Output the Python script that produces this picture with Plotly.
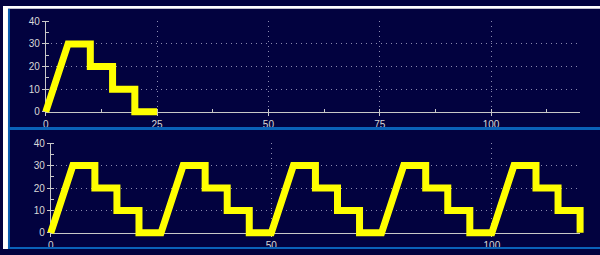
import plotly.graph_objects as go

# ---- data ----
top_x = [0, 5, 10, 10, 15, 15, 20, 20, 25]
top_y = [0, 30, 30, 20, 20, 10, 10, 0, 0]

bot_x = [0, 5, 10, 10, 15, 15, 20, 20, 25,
         30, 35, 35, 40, 40, 45, 45, 50,
         55, 60, 60, 65, 65, 70, 70, 75,
         80, 85, 85, 90, 90, 95, 95, 100,
         105, 110, 110, 115, 115, 120, 120]
bot_y = [0, 30, 30, 20, 20, 10, 10, 0, 0,
         30, 30, 20, 20, 10, 10, 0, 0,
         30, 30, 20, 20, 10, 10, 0, 0,
         30, 30, 20, 20, 10, 10, 0, 0,
         30, 30, 20, 20, 10, 10, 0]

x_range = [0, 120]
y_range = [0, 40]
top_xticks = [0, 25, 50, 75, 100]
bot_xticks = [0, 50, 100]
y_ticks = [0, 10, 20, 30, 40]

# ---- layout helpers ----
W, H = 600, 255
BG = "#02023f"
YEL = "#ffff00"
AX = "#c8c8c8"
GRID = "#8a8ab0"
FONT = dict(family="Liberation Sans, Arial, sans-serif", size=10, color="#d8d8d8")


def px_dom_x(a, b):
    return [a / W, b / W]


def px_dom_y(top, bottom):
    return [1 - bottom / H, 1 - top / H]


fig = go.Figure()

panels = [
    # (xpx0, xpx1, ypx_top, ypx_bottom, xticks, minor_dtick, xdata, ydata)
    (43, 580, 16, 111, top_xticks, 12.5, top_x, top_y),
    (48, 580, 144, 238, bot_xticks, 25, bot_x, bot_y),
]

layout = dict(
    width=W, height=H, margin=dict(l=0, r=0, t=0, b=0),
    paper_bgcolor=BG, plot_bgcolor="rgba(0,0,0,0)",
    showlegend=False, font=FONT,
)

E = 8  # px extension for trace axes (avoid clipping of thick line)
for i, (x0, x1, yt, yb, xt, mdt, xd, yd) in enumerate(panels):
    dn = 2 * i + 1          # display axes
    tn = 2 * i + 2          # trace axes
    dsx = "" if dn == 1 else str(dn)
    kx = (x1 - x0) / (x_range[1] - x_range[0])
    ky = (yb - yt) / (y_range[1] - y_range[0])
    dash = "1px,4px"
    layout["xaxis" + dsx] = dict(
        domain=px_dom_x(x0, x1), range=x_range, anchor="y" + dsx,
        showline=True, linecolor=AX, linewidth=1,
        tickvals=xt, ticks="outside", ticklen=3, tickcolor=AX,
        showgrid=True, gridcolor=GRID, griddash=dash, gridwidth=1,
        zeroline=False, tickfont=FONT,
        minor=dict(dtick=mdt, tick0=0, ticks="inside", ticklen=3, tickcolor=AX, showgrid=False),
        fixedrange=True,
    )
    layout["yaxis" + dsx] = dict(
        domain=px_dom_y(yt, yb), range=y_range, anchor="x" + dsx,
        showline=True, linecolor=AX, linewidth=1,
        tickvals=y_ticks, ticks="outside", ticklen=3, tickcolor=AX,
        showgrid=True, gridcolor=GRID, griddash=dash, gridwidth=1,
        zeroline=False, tickfont=FONT,
        minor=dict(dtick=5, tick0=0, ticks="inside", ticklen=3, tickcolor=AX, showgrid=False),
        fixedrange=True,
    )
    layout["xaxis" + str(tn)] = dict(
        domain=px_dom_x(x0 - E, x1 + E),
        range=[x_range[0] - E / kx, x_range[1] + E / kx],
        anchor="y" + str(tn), visible=False, fixedrange=True,
    )
    layout["yaxis" + str(tn)] = dict(
        domain=px_dom_y(yt - E, yb + E),
        range=[y_range[0] - E / ky, y_range[1] + E / ky],
        anchor="x" + str(tn), visible=False, fixedrange=True,
    )
    # empty trace so the display axes get drawn
    fig.add_trace(go.Scatter(
        x=[None], y=[None], mode="lines",
        xaxis="x" + dsx, yaxis="y" + dsx, hoverinfo="skip",
    ))
    fig.add_trace(go.Scatter(
        x=xd, y=yd, mode="lines",
        line=dict(color=YEL, width=7),
        xaxis="x" + str(tn), yaxis="y" + str(tn),
        hoverinfo="skip",
    ))

shapes = [
    # white outer margin (left & top)
    dict(type="rect", xref="paper", yref="paper", x0=0, x1=5 / W, y0=0, y1=1,
         fillcolor="white", line=dict(width=0), layer="above"),
    dict(type="rect", xref="paper", yref="paper", x0=0, x1=1, y0=1 - 3 / H, y1=1,
         fillcolor="white", line=dict(width=0), layer="above"),
    # blue frame lines
    dict(type="rect", xref="paper", yref="paper", x0=5 / W, x1=7 / W, y0=0, y1=1 - 3 / H,
         fillcolor="#0a5cb0", line=dict(width=0), layer="above"),
    dict(type="rect", xref="paper", yref="paper", x0=5 / W, x1=1, y0=1 - 130 / H, y1=1 - 127 / H,
         fillcolor="#0a62b8", line=dict(width=0), layer="above"),
    dict(type="rect", xref="paper", yref="paper", x0=5 / W, x1=1, y0=0, y1=2 / H,
         fillcolor="#0a62b8", line=dict(width=0), layer="above"),
]
layout["shapes"] = shapes

fig.update_layout(**layout)
fig.write_html("out.html", config={"displayModeBar": False},
               post_script="document.body.style.margin='0';")
